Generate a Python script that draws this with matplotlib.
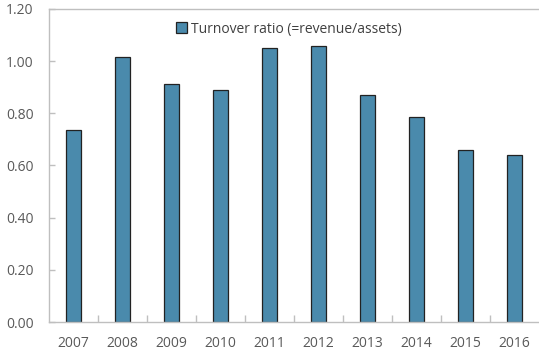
import numpy as np
import matplotlib
matplotlib.use("Agg")
import matplotlib.pyplot as plt

years = ["2007", "2008", "2009", "2010", "2011", "2012", "2013", "2014", "2015", "2016"]
turnover = [0.736, 1.017, 0.911, 0.888, 1.051, 1.058, 0.872, 0.787, 0.658, 0.639]
yticks = [0.0, 0.2, 0.4, 0.6, 0.8, 1.0, 1.2]

plt.rcParams['font.family'] = ['Open Sans', 'DejaVu Sans']

fig = plt.figure(figsize=(5.39, 3.49), dpi=100)
ax = fig.add_axes([49 / 539, 27 / 349, 490 / 539, 313 / 349])

x = np.arange(len(years))
ax.bar(x, turnover, width=0.32, color="#4a8aac", edgecolor="#222222", linewidth=0.9,
       label="Turnover ratio (=revenue/assets)")

ax.set_xlim(-0.5, len(years) - 0.5)
ax.set_ylim(0, 1.2)
ax.set_yticks(yticks)
ax.set_yticklabels(["%.2f" % v for v in yticks])
ax.set_xticks(x)
ax.set_xticklabels(years)
ax.set_xticks(np.arange(0.5, len(years) - 0.5, 1), minor=True)

ax.tick_params(axis="x", which="major", length=0, pad=10, labelsize=10, labelcolor="#595959")
ax.tick_params(axis="x", which="minor", direction="in", length=5, color="#bfbfbf", width=1)
ax.tick_params(axis="y", direction="in", length=4, color="#bfbfbf", width=1,
               labelsize=10, labelcolor="#595959", pad=11)

for s in ["left", "bottom", "top"]:
    ax.spines[s].set_color("#bfbfbf")
    ax.spines[s].set_linewidth(1)
ax.spines["right"].set_visible(False)

ax.legend(loc="upper center", bbox_to_anchor=(0.49, 1.0), frameon=False, fontsize=10,
          handlelength=0.8, handleheight=0.8, handletextpad=0.3, labelcolor="#404040")

fig.savefig("out.png", dpi=100)
